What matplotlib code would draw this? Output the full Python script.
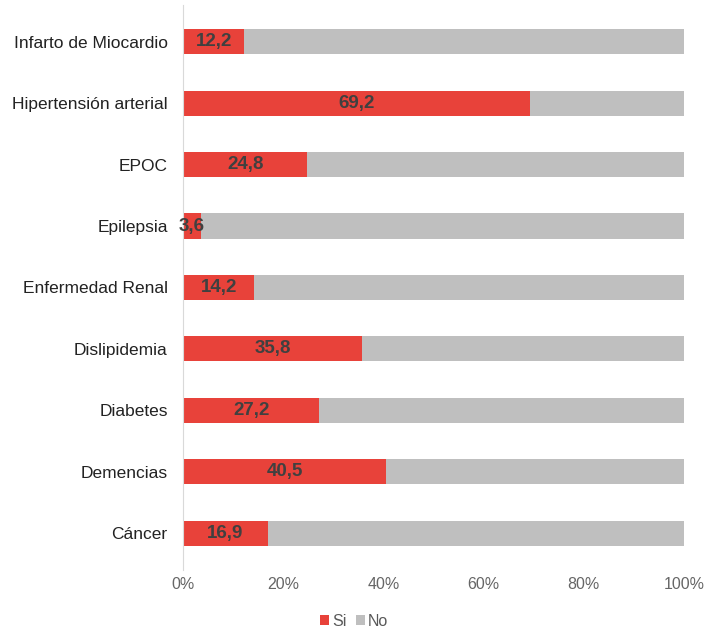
import matplotlib.pyplot as plt
from matplotlib.ticker import PercentFormatter

plt.rcParams['font.family'] = ['Liberation Sans', 'DejaVu Sans']

categories = ['Cáncer', 'Demencias', 'Diabetes', 'Dislipidemia', 'Enfermedad Renal',
              'Epilepsia', 'EPOC', 'Hipertensión arterial', 'Infarto de Miocardio']
si_values = [16.9, 40.5, 27.2, 35.8, 14.2, 3.6, 24.8, 69.2, 12.2]
no_values = [100 - v for v in si_values]

red = '#E8423A'
grey = '#BFBFBF'

fig = plt.figure(figsize=(7.08, 6.30), dpi=100)
ax = fig.add_axes([0.2585, 0.0952, 0.7075, 0.897])

pos = list(range(len(categories)))
ax.barh(pos, si_values, height=0.41, color=red, label='Si')
ax.barh(pos, no_values, left=si_values, height=0.41, color=grey, label='No')

for y, v in zip(pos, si_values):
    ax.text(v / 2, y, f'{v:.1f}'.replace('.', ','), ha='center', va='center',
            fontsize=13.5, fontweight='bold', color='#404040')

ax.set_xlim(0, 100)
ax.set_ylim(-0.6, 8.6)
ax.set_yticks(pos)
ax.set_yticklabels(categories, fontsize=12.5, color='#222222')
ax.set_xticks([0, 20, 40, 60, 80, 100])
ax.xaxis.set_major_formatter(PercentFormatter(decimals=0))
ax.tick_params(axis='x', length=0, pad=5, labelsize=11.5, labelcolor='#666666')
ax.tick_params(axis='y', length=0, pad=11)

for side in ['top', 'right', 'bottom']:
    ax.spines[side].set_visible(False)
ax.spines['left'].set_color('#D9D9D9')

# legend sits centred under the whole figure, not just the axes
fig.legend(loc='center', bbox_to_anchor=(0.5, 0.014), ncol=2, frameon=False,
           handlelength=0.55, handleheight=0.55, handletextpad=0.2, columnspacing=0.6,
           fontsize=11.5, labelcolor='#595959')

fig.savefig('out.png', dpi=100)
